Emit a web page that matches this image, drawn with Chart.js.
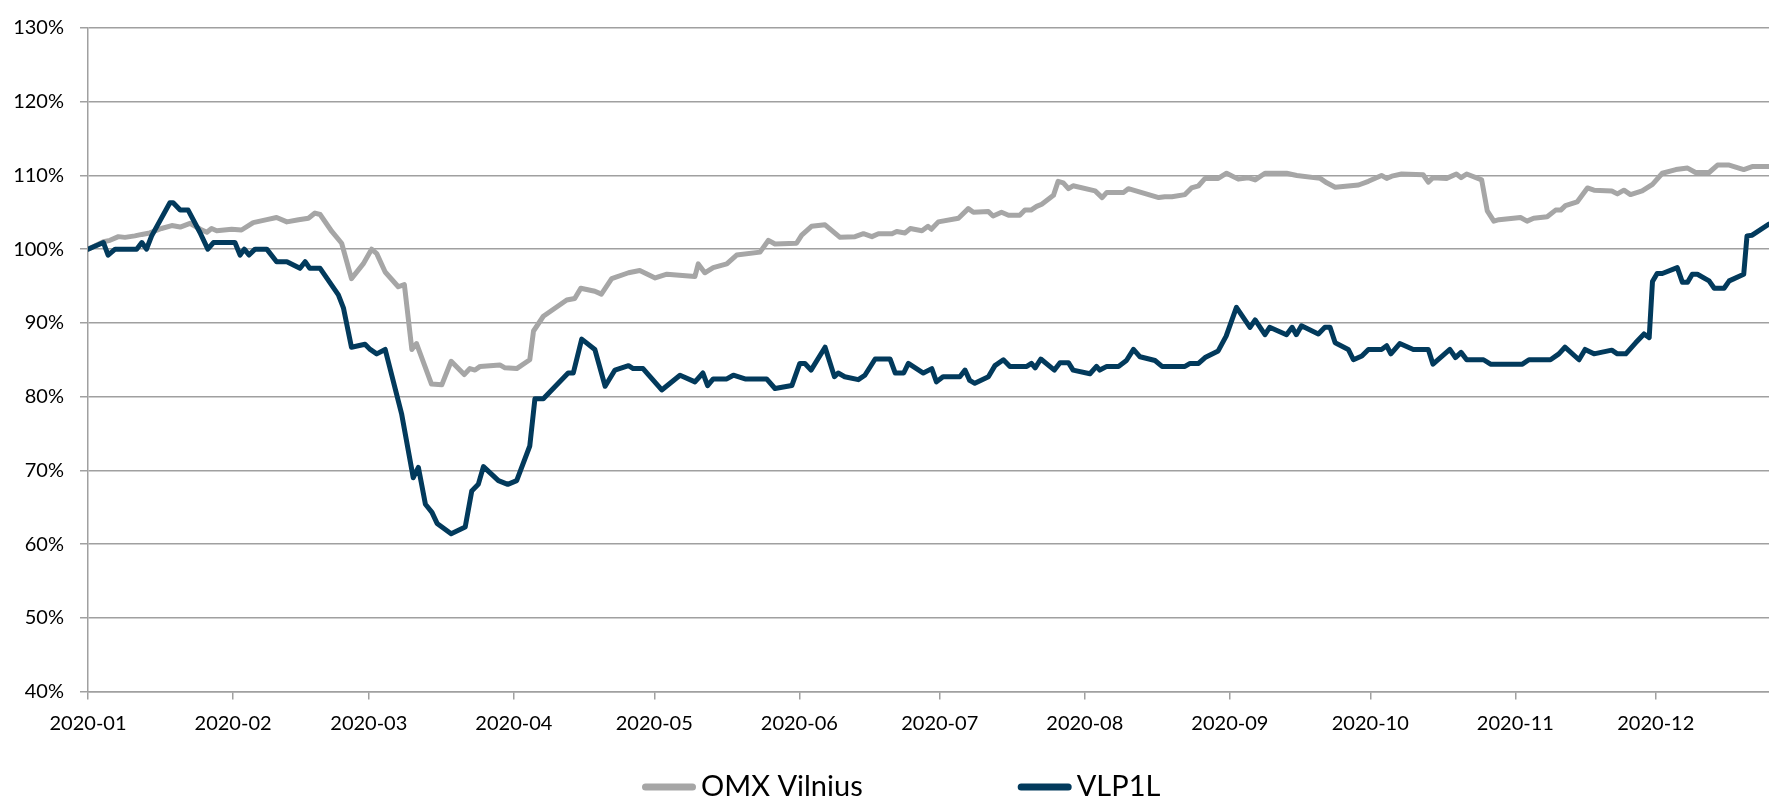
<!DOCTYPE html>
<html>
<head>
<meta charset="utf-8">
<script src="https://cdn.jsdelivr.net/npm/chart.js@4.4.1/dist/chart.umd.min.js"></script>
<style>
  html, body { margin: 0; padding: 0; background: #fff; }
  #wrap { width: 1769px; height: 800px; }
</style>
</head>
<body>
<div id="wrap"><canvas id="chart"></canvas></div>
<script>
// x values are days since 2020-01-01
const MONTH_STARTS = [0, 31, 60, 91, 121, 152, 182, 213, 244, 274, 305, 335];
const MONTH_LABELS = ['2020-01', '2020-02', '2020-03', '2020-04', '2020-05', '2020-06',
  '2020-07', '2020-08', '2020-09', '2020-10', '2020-11', '2020-12'];
const LAST_DAY = 359.2;

const OMX_DAYS = [0, 3.3, 4.7, 6.5, 7.9, 10, 11.5, 13.2, 15.7, 17.9, 19.7, 21.8, 24, 25.4, 26.4, 27.5,
  30.7, 32.8, 35.3, 38.2, 40.3, 42.5, 45, 47.1, 48.5, 49.6, 52.1, 54.2, 56.3, 58.8, 60.6, 61.7,
  63.5, 66.3, 67.6, 69.2, 70.2, 73.4, 75.6, 77.6, 80.4, 81.6, 82.7, 83.8, 88, 89.1, 91.6, 94.4,
  95.2, 97.3, 102.3, 104, 105.3, 108.3, 109.7, 111.9, 115.5, 117.9, 121.2, 123.7, 129.7, 130.4,
  131.8, 133.6, 136.5, 138.6, 143.6, 145.4, 146.8, 151.4, 152.5, 154.6, 157.5, 160.7, 163.9,
  165.7, 167.5, 168.9, 171.8, 172.8, 174.6, 175.7, 178.2, 179.5, 180.2, 181.7, 186, 188.1,
  189.2, 192.4, 193.4, 195.2, 196.7, 199.1, 200.2, 201.5, 202.7, 203.8, 206.3, 207.3, 208.4,
  209.5, 210.5, 215.2, 216.7, 217.7, 221.3, 222.3, 228.8, 230.1, 231.6, 234.4, 235.8, 237.3,
  238.7, 241.5, 243.3, 245.8, 247.9, 249.4, 251.5, 256.1, 258.3, 263.3, 264.7, 266.5, 271.5,
  273.6, 276.4, 277.5, 278.6, 280.7, 285.3, 286.4, 287.4, 290.3, 292.4, 293.4, 294.6, 297.8,
  299, 300.4, 301.5, 306.1, 307.5, 308.9, 311.8, 313.6, 314.7, 315.7, 318.2, 320.4, 321.8,
  325.6, 326.8, 328.2, 329.6, 332.1, 334.3, 336.4, 339.3, 341.8, 343.5, 346.4, 348.2, 350.7,
  353.8, 355.6, 359.2];
const OMX_VALUES = [100, 101.0, 101.2, 101.7, 101.6, 101.8, 102.0, 102.2, 102.8, 103.2, 103.0, 103.5,
  102.7, 102.3, 102.8, 102.5, 102.7, 102.6, 103.6, 104.0, 104.3, 103.7, 104.0, 104.2, 104.9,
  104.7, 102.4, 100.8, 96.0, 98.0, 100.0, 99.4, 96.9, 94.9, 95.2, 86.4, 87.2, 81.7, 81.6, 84.8,
  83.0, 83.8, 83.6, 84.1, 84.3, 83.9, 83.8, 85.0, 88.9, 90.9, 93.1, 93.3, 94.7, 94.3, 93.9, 96.0,
  96.8, 97.1, 96.1, 96.6, 96.3, 98.0, 96.8, 97.5, 98.0, 99.2, 99.6, 101.2, 100.7, 100.8, 101.9,
  103.1, 103.3, 101.6, 101.7, 102.1, 101.7, 102.1, 102.1, 102.4, 102.2, 102.8, 102.5, 103.1,
  102.7, 103.7, 104.2, 105.5, 105.0, 105.1, 104.5, 105.0, 104.6, 104.6, 105.3, 105.3, 105.8,
  106.1, 107.3, 109.2, 109.0, 108.2, 108.6, 107.9, 107.0, 107.7, 107.7, 108.2, 107.0, 107.1,
  107.1, 107.4, 108.3, 108.6, 109.6, 109.6, 110.3, 109.5, 109.7, 109.4, 110.3, 110.3, 110.0,
  109.6, 109.0, 108.4, 108.7, 109.2, 110.0, 109.6, 109.9, 110.2, 110.1, 109.1, 109.7, 109.6,
  110.2, 109.7, 110.2, 109.4, 105.2, 103.8, 104.0, 104.3, 103.8, 104.2, 104.4, 105.3, 105.3,
  105.9, 106.4, 108.3, 108.0, 107.9, 107.5, 108.0, 107.4, 107.9, 108.8, 110.3, 110.8, 111.0,
  110.4, 110.4, 111.4, 111.4, 110.8, 111.2, 111.2];

const VLP_DAYS = [0, 3.3, 4.3, 5.8, 10.4, 11.5, 12.5, 13.6, 17.5, 18.2, 19.7, 21.4, 23.9, 25.6, 26.8,
  31.4, 32.5, 33.4, 34.4, 35.7, 38.2, 40.3, 42.5, 45.3, 46.4, 47.4, 49.6, 53.5, 54.6, 56.3, 59.2,
  60.3, 61.7, 63.5, 67, 69.5, 70.6, 72.1, 73.5, 74.6, 77.6, 80.6, 82, 83.4, 84.5, 87.7, 89.7,
  91.6, 94.4, 95.5, 97.3, 102.6, 103.7, 105.5, 108.3, 110.5, 112.6, 115.5, 116.5, 118.6, 122.6,
  126.5, 129.7, 131.4, 132.4, 133.6, 136.5, 137.9, 140.4, 145, 146.8, 150.4, 152.1, 153.2,
  154.5, 157.5, 159.5, 160.3, 161.7, 164.6, 166, 168.2, 171.4, 172.5, 174.3, 175.3, 178.5,
  180.3, 181.3, 182.7, 186.3, 187.4, 188.4, 189.5, 192.4, 193.8, 195.6, 197, 200.6, 201.6,
  202.4, 203.6, 206.5, 207.7, 209.5, 210.5, 214.1, 215.5, 216.2, 217.7, 220.2, 221.9, 223.4,
  224.8, 228, 229.5, 234.4, 235.5, 237.3, 238.7, 241.5, 243.2, 245.4, 248.3, 249.4, 251.5,
  252.5, 256.1, 257.3, 258.2, 259.3, 262.9, 264.3, 265.4, 266.5, 269.3, 270.4, 272.2, 273.6,
  276.4, 277.5, 278.4, 280.3, 283.2, 286.4, 287.4, 291, 292.2, 293.4, 294.6, 298.2, 299.7,
  306.5, 307.9, 312.5, 314.3, 315.6, 318.6, 319.9, 321.8, 325.6, 326.8, 328.6, 330.7, 332.5,
  333.6, 334.3, 335.3, 336.4, 339.6, 340.7, 341.8, 342.8, 343.9, 346.4, 347.5, 349.6, 350.7,
  353.8, 354.5, 355.6, 359.2];
const VLP_VALUES = [100, 100.9, 99.2, 100, 100, 100.9, 100, 101.8, 106.3, 106.3, 105.3, 105.3, 102.3,
  100, 100.9, 100.9, 99.2, 100, 99.2, 100, 100, 98.3, 98.3, 97.4, 98.3, 97.4, 97.4, 93.8, 92,
  86.7, 87.1, 86.4, 85.8, 86.4, 77.7, 69.0, 70.4, 65.4, 64.3, 62.8, 61.4, 62.3, 67.2, 68.1, 70.5,
  68.6, 68.1, 68.6, 73.3, 79.7, 79.7, 83.2, 83.2, 87.8, 86.4, 81.4, 83.6, 84.2, 83.8, 83.8, 80.9,
  82.9, 82.0, 83.2, 81.5, 82.4, 82.4, 82.9, 82.4, 82.4, 81.1, 81.5, 84.5, 84.5, 83.6, 86.7, 82.7,
  83.2, 82.7, 82.3, 82.9, 85.1, 85.1, 83.2, 83.2, 84.5, 83.2, 83.8, 82.0, 82.7, 82.7, 83.6, 82.2,
  81.8, 82.7, 84.2, 85.0, 84.1, 84.1, 84.5, 83.9, 85.1, 83.6, 84.6, 84.6, 83.6, 83.1, 84.1, 83.6,
  84.1, 84.1, 84.9, 86.4, 85.4, 84.9, 84.1, 84.1, 84.5, 84.5, 85.3, 86.2, 88.2, 92.1, 89.4, 90.4,
  88.4, 89.4, 88.4, 89.4, 88.4, 89.6, 88.5, 89.4, 89.4, 87.3, 86.4, 85.0, 85.5, 86.4, 86.4, 86.9,
  85.8, 87.2, 86.4, 86.4, 84.4, 86.4, 85.3, 86.0, 85.0, 85.0, 84.4, 84.4, 85.0, 85.0, 85.8, 86.7,
  85.0, 86.4, 85.8, 86.3, 85.8, 85.8, 87.3, 88.5, 88.0, 95.6, 96.7, 96.7, 97.5, 95.5, 95.5, 96.6,
  96.6, 95.7, 94.7, 94.7, 95.7, 96.6, 101.8, 101.9, 103.4];

const OMX_COLOR = '#a6a6a6';
const VLP_COLOR = '#023a5c';
const GRID_COLOR = '#a0a0a0';
const FONT = 'Lato';

const toPoints = (days, values) => days.map((d, i) => ({ x: d, y: values[i] }));

// legend drawn as line samples under the axis
const lineLegend = {
  id: 'lineLegend',
  afterDraw(chart) {
    const ctx = chart.ctx;
    const y = 787;
    let x = 642;
    ctx.save();
    ctx.font = '29px ' + FONT;
    ctx.textBaseline = 'middle';
    ctx.textAlign = 'left';
    chart.data.datasets.forEach(ds => {
      ctx.strokeStyle = ds.borderColor;
      ctx.lineWidth = 7;
      ctx.lineCap = 'round';
      ctx.beginPath();
      ctx.moveTo(x + 3.5, y);
      ctx.lineTo(x + 50.5, y);
      ctx.stroke();
      ctx.fillStyle = '#000';
      ctx.fillText(ds.label, x + 59, y);
      x += 59 + ctx.measureText(ds.label).width + 155;
    });
    ctx.restore();
  },
};

const ctx = document.getElementById('chart').getContext('2d');
new Chart(ctx, {
  type: 'line',
  data: {
    datasets: [
      {
        label: 'OMX Vilnius',
        data: toPoints(OMX_DAYS, OMX_VALUES),
        borderColor: OMX_COLOR,
        backgroundColor: OMX_COLOR,
        borderWidth: 5,
        borderJoinStyle: 'round',
        borderCapStyle: 'round',
        pointRadius: 0,
        tension: 0,
        order: 2,
      },
      {
        label: 'VLP1L',
        data: toPoints(VLP_DAYS, VLP_VALUES),
        borderColor: VLP_COLOR,
        backgroundColor: VLP_COLOR,
        borderWidth: 5,
        borderJoinStyle: 'round',
        borderCapStyle: 'round',
        pointRadius: 0,
        tension: 0,
        order: 1,
      },
    ],
  },
  options: {
    responsive: true,
    maintainAspectRatio: false,
    animation: false,
    layout: { padding: { top: 20.3, right: 0, bottom: 0, left: 0 } },
    plugins: {
      legend: { display: false },
      tooltip: { enabled: false },
    },
    scales: {
      x: {
        type: 'linear',
        min: 0,
        max: LAST_DAY,
        afterBuildTicks: s => { s.ticks = MONTH_STARTS.map(v => ({ value: v })); },
        afterFit: s => { s.height = 108.5; },
        grid: { drawOnChartArea: false, drawTicks: true, tickLength: 8, color: GRID_COLOR, lineWidth: 1.5 },
        border: { color: GRID_COLOR, width: 1.5 },
        ticks: {
          autoSkip: false,
          maxRotation: 0,
          padding: 12,
          color: '#000',
          font: { size: 20, family: FONT },
          callback: v => MONTH_LABELS[MONTH_STARTS.indexOf(v)],
        },
      },
      y: {
        min: 40,
        max: 130,
        afterFit: s => { s.width = 88; },
        grid: { color: GRID_COLOR, lineWidth: 1.5, tickLength: 8 },
        border: { color: GRID_COLOR, width: 1.5 },
        ticks: {
          stepSize: 10,
          padding: 16,
          color: '#000',
          font: { size: 20, family: FONT },
          callback: v => v + '%',
        },
      },
    },
  },
  plugins: [lineLegend],
});
</script>
</body>
</html>
